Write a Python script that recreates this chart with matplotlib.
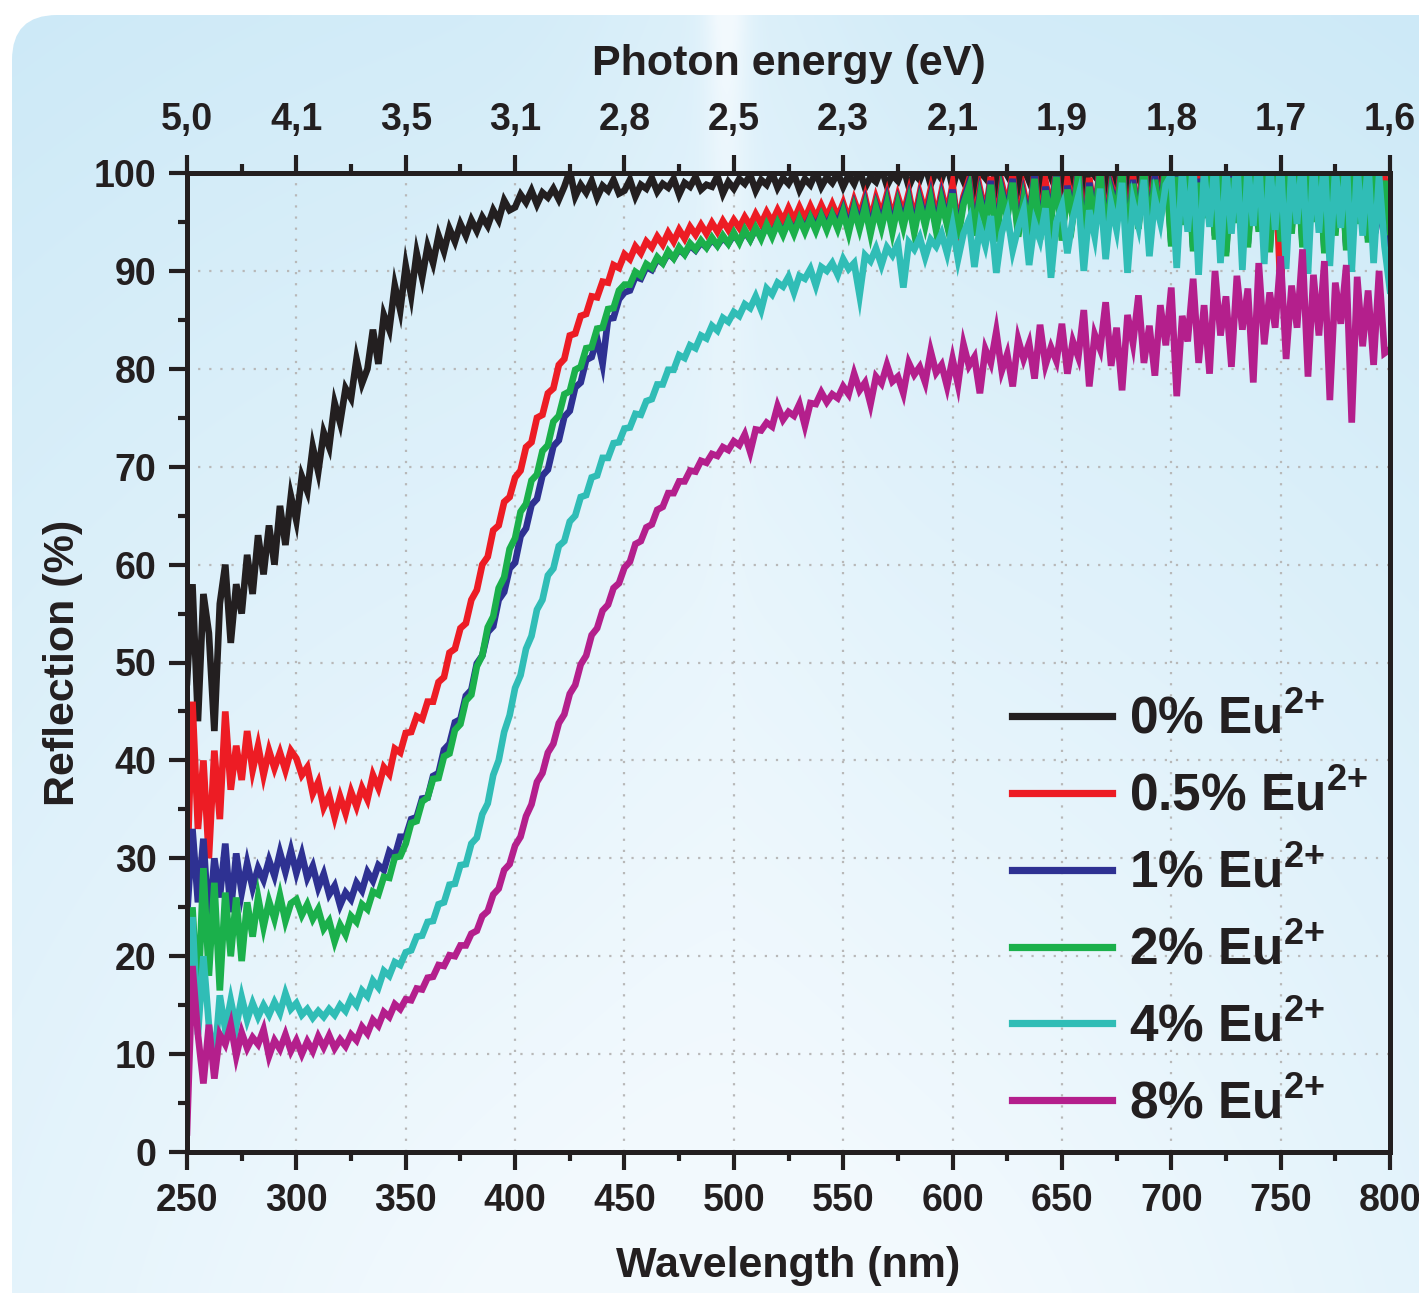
import numpy as np
import matplotlib
matplotlib.use('Agg')
import matplotlib.pyplot as plt
from matplotlib.patches import FancyBboxPatch
from matplotlib.lines import Line2D

plt.rcParams['font.family'] = 'Liberation Sans'
plt.rcParams['font.weight'] = 'bold'
plt.rcParams['mathtext.fontset'] = 'custom'
plt.rcParams['mathtext.rm'] = 'Liberation Sans:bold'
plt.rcParams['mathtext.bf'] = 'Liberation Sans:bold'
plt.rcParams['mathtext.default'] = 'bf'

# wavelength grid (nm), reflection every 2.5 nm
wavelength = [250 + 2.5 * i for i in range(221)]

r_0 = [48, 58, 44, 57, 53, 43, 56, 60, 52, 58, 55, 61, 57, 63, 59, 64, 60, 66, 62, 67,
       64.5, 69, 67.5, 72, 69.5, 73.5, 72, 76.5, 74.5, 78, 77, 81, 78.5, 80, 84, 80.5, 85.5, 84, 88.5, 86,
       90.5, 87.5, 91.8, 89.3, 92.5, 90.8, 93.6, 92, 94.3, 93, 94.8, 93.6, 95.2, 94.1, 95.5, 94.6, 96.2, 95.2, 97.2, 96.2,
       96.5, 97.8, 97, 98.2, 96.8, 98, 97.5, 98.4, 97.3, 98.6, 100.2, 97.6, 98.8, 98, 99.2, 97.5, 98.7, 98.2, 99.3, 97.9,
       98.2, 99.3, 97.6, 98.8, 98.4, 99.5, 98.1, 98.9, 98.5, 99.4, 97.8, 99, 98.6, 99.6, 98.3, 98.8, 98.6, 99.7, 97.9, 99.1,
       98.4, 99.4, 98.9, 99.8, 98.2, 99.3, 98.8, 100, 98.5, 99.5, 98.9, 99.9, 98.3, 99.4, 98.8, 100.1, 98.6, 99.6, 99, 100,
       98.6, 99.8, 98.9, 100.3, 98.5, 99.6, 99.1, 100.5, 98.7, 99.8, 99.2, 100.6, 98.6, 99.9, 99.3, 100.8, 98.8, 100.2, 99.4, 101,
       98.5, 100.5, 99.2, 101.2, 98.3, 100.2, 99.5, 101.5, 98.6, 100.8, 99.8, 101.5, 98.4, 100.6, 99.2, 101.7, 98.7, 101, 99.6, 101.8,
       98.2, 101, 99.3, 101.8, 98, 100.4, 99.7, 102, 98.4, 101.2, 99.1, 101.9, 97.9, 100.7, 99.5, 102, 98.3, 101.3, 99.6, 102,
       98.1, 101.2, 99.4, 102, 97.8, 100.8, 99.2, 102, 98.2, 101.4, 99.6, 102, 97.6, 100.9, 99.3, 102, 98, 101.3, 99.5, 102,
       97.9, 101.4, 99.2, 102, 98.1, 100.9, 99.6, 102, 97.7, 101.2, 99.3, 102, 98, 101, 99.5, 102, 97.8, 101.3, 99.2, 102,
       100]

r_05 = [28, 46, 33, 40, 30, 41, 34, 45, 37, 41.5, 38, 43, 39, 41.5, 38.5, 41, 39.2, 40.8, 39, 41,
        40.2, 38.5, 39.3, 36.6, 37.8, 35.2, 36.4, 34.2, 36.3, 34.6, 36.8, 35.3, 37.2, 36, 38.5, 37.2, 39.3, 38.6, 41.2, 40.8,
        42.8, 42.9, 44.5, 44.2, 46, 46, 48, 48.5, 51, 51.4, 53.5, 54, 56.4, 57.4, 60, 60.8, 63.5, 64, 66.4, 66.9,
        68.9, 69.6, 72, 72.5, 75, 75.3, 77.5, 78, 80.4, 81, 83.4, 83.6, 85.4, 85.6, 87.4, 87.3, 88.9, 88.8, 90.6, 90.3,
        91.7, 91.2, 92.5, 91.8, 93, 92.4, 93.5, 92.7, 93.9, 93, 94.2, 93.3, 94.5, 93.7, 94.7, 93.8, 94.9, 94, 95.1, 94.2,
        95.2, 94.4, 95.5, 94.6, 95.8, 94.8, 96, 95, 96.2, 95.1, 96.4, 95.2, 96.5, 95.3, 96.6, 95.4, 96.7, 95.5, 96.8, 95.5,
        96.9, 95.2, 97.2, 95.6, 97.5, 95.1, 97.4, 95.7, 97.8, 95.3, 97.6, 95.8, 98, 95.2, 97.9, 95.9, 98.3, 95.4, 98.1, 95.8,
        98.8, 94.5, 97.6, 99.3, 94.9, 98.4, 95.8, 99.6, 94.2, 98.9, 96.6, 99.8, 94.8, 98.2, 95.5, 100.2, 94.6, 99.1, 96.2, 100.4,
        94.3, 99.2, 96.4, 100.6, 93.8, 99.5, 95.6, 101, 94.5, 98.8, 96.8, 101.2, 93.6, 99.7, 95.3, 101.4, 94.8, 100.2, 96.1, 101.5,
        93.8, 100.5, 95.6, 102, 93.2, 99.8, 96.2, 102, 94.4, 101.2, 92.8, 100.4, 95.8, 102, 93.6, 100.9, 95, 102, 93.1, 101.5,
        87.5, 101, 94.8, 102, 93.5, 100.6, 95.9, 102, 93, 101.3, 94.6, 102, 92.9, 100.8, 95.7, 102, 94, 101.2, 97, 99.5,
        93]

r_1 = [24, 33, 25.5, 32, 23, 30, 26, 31.5, 24.5, 30.5, 26.5, 29.5, 27, 29, 27.8, 29.8, 28.2, 30.6, 28.6, 30.8,
       28.5, 30.4, 28, 29.2, 27, 28.4, 26.3, 27.2, 25.2, 26.5, 25.8, 27.5, 26.7, 28.6, 27.7, 29.3, 28.8, 30.7, 30.2, 32.2,
       32.2, 34, 34.2, 36.1, 36.2, 38.4, 38.7, 41.1, 41.7, 43.9, 44.2, 46.6, 47.2, 49.9, 50.7, 53.1, 53.7, 56.4, 57.2, 59.6,
       60.2, 62.9, 63.7, 66.1, 66.7, 69.1, 69.7, 72.1, 72.7, 75.1, 75.7, 78.1, 78.6, 80.9, 81.2, 83.1, 80.5, 85.1, 85.2, 87.1,
       87.8, 88, 89.4, 89.2, 90.4, 90.1, 91.2, 90.8, 91.8, 91.3, 92.2, 91.7, 92.6, 92.1, 92.9, 92.4, 93.2, 92.6, 93.4, 92.8,
       93.7, 93, 94, 93.2, 94.3, 93.5, 94.6, 93.7, 94.9, 93.9, 95.1, 94.1, 95.3, 94.3, 95.5, 94.5, 95.7, 94.6, 95.8, 94.8,
       96.3, 94.4, 96.6, 94.8, 96.9, 94.3, 96.7, 94.9, 97.2, 94.5, 97, 95, 97.4, 94.4, 97.3, 95.1, 97.6, 94.6, 97.5, 95,
       98.3, 93.8, 97.2, 98.9, 94.1, 97.8, 95.2, 99.2, 93.5, 98.3, 95.9, 99.4, 94, 97.6, 95, 99.8, 93.7, 98.6, 95.6, 100,
       93.5, 98.7, 95.8, 100.2, 93.1, 99, 95.2, 100.6, 93.8, 98.4, 96.3, 100.8, 92.9, 99.3, 94.7, 101, 94.1, 99.7, 95.6, 101.2,
       92.9, 100, 95.1, 101.8, 92.4, 99.4, 95.8, 102, 93.6, 100.7, 91.9, 99.9, 95.3, 102, 92.8, 100.3, 94.4, 101.9, 92.3, 101,
       93.4, 100.6, 94.2, 102, 92.8, 100.1, 95.4, 101.8, 92.2, 100.9, 94, 102, 92.5, 100.3, 95.2, 101.9, 93.3, 100.7, 96, 99,
       91]

r_2 = [8, 25, 15, 29, 18, 27.5, 16.5, 26.5, 20, 26, 19.5, 25.5, 22, 26, 23, 25.6, 23.8, 26.2, 23.6, 25.4,
       25.8, 24.2, 25.3, 23.8, 24.8, 22.8, 23.6, 21.5, 23.2, 22.2, 24.1, 23.5, 25.3, 24.8, 26.6, 26.3, 28.1, 28, 30.1, 30.2,
       31.5, 33.6, 33.8, 35.8, 36.2, 38.1, 38.2, 40.4, 40.7, 43.1, 43.7, 46.1, 46.7, 49.6, 50.7, 53.6, 54.7, 57.6, 58.7, 61.6,
       62.7, 65.4, 66.2, 68.6, 69.2, 71.6, 72.2, 74.6, 75.2, 77.4, 77.7, 79.9, 80.2, 82.1, 82.2, 84.1, 84.2, 86.1, 86.2, 88,
       88.6, 88.6, 89.9, 89.5, 90.7, 90.3, 91.4, 90.8, 92, 91.3, 92.4, 91.7, 92.8, 92.2, 93.1, 92.4, 93.4, 92.6, 93.6, 92.8,
       93.9, 92.9, 94.2, 93.2, 94.4, 93.3, 94.7, 93.5, 94.9, 93.7, 95.1, 93.8, 95.3, 94, 95.4, 94.1, 95.6, 94.2, 95.7, 94.3,
       96, 93.9, 96.3, 94.3, 96.5, 93.8, 96.4, 94.4, 96.8, 94, 96.7, 94.5, 97, 93.9, 96.9, 94.6, 97.2, 94.1, 97.1, 94.7,
       97.9, 93.3, 96.8, 98.5, 93.6, 97.4, 94.7, 98.8, 93, 97.9, 95.4, 99, 93.5, 97.2, 94.5, 99.4, 93.2, 98.2, 95.1, 99.6,
       93.1, 98.3, 95.4, 99.8, 92.7, 98.6, 94.8, 100.2, 93.4, 98, 95.9, 100.4, 92.5, 98.9, 94.3, 100.6, 93.7, 99.3, 95.2, 100.8,
       92.5, 99.6, 94.7, 101.4, 92, 99, 95.4, 101.8, 93.2, 100.3, 91.5, 99.5, 94.9, 101.9, 92.4, 99.9, 94, 101.5, 91.9, 100.6,
       93, 100.2, 93.8, 101.8, 92.4, 99.7, 95, 101.4, 91.8, 100.5, 93.6, 101.8, 92.1, 99.9, 94.8, 101.5, 92.9, 100.3, 95.6, 99.2,
       94]

r_4 = [10, 24, 12, 20, 13, 9, 16, 12.5, 15.5, 12.8, 15.8, 13.5, 15.2, 13.8, 15, 14, 15.3, 14.2, 16.2, 14.6,
       15.2, 14, 14.6, 13.7, 14.4, 13.8, 14.6, 14, 15, 14.4, 15.7, 15, 16.5, 15.9, 17.5, 16.8, 18.5, 18, 19.4, 19.1,
       20.4, 20.6, 22, 22.1, 23.5, 23.6, 25.3, 25.5, 27.3, 27.4, 29.3, 29.4, 31.5, 32.1, 34.5, 35.6, 38.5, 40, 42.9, 44.6,
       47.4, 48.7, 51.4, 52.7, 55.4, 56.4, 58.9, 59.6, 61.9, 62.4, 64.4, 65, 66.9, 67.1, 68.9, 69.1, 70.9, 70.9, 72.4, 72.5,
       73.9, 74, 75.4, 75.3, 76.7, 76.9, 78.4, 78.4, 79.9, 79.9, 81.4, 81.1, 82.4, 82.1, 83.4, 83.1, 84.4, 83.9, 85.2, 84.8,
       85.8, 85.4, 86.6, 86.2, 87.4, 86, 88.2, 87.6, 88.8, 88.4, 89.4, 87.8, 89.5, 89.2, 90.2, 88.5, 90.4, 90, 90.8, 89.6,
       91.2, 90.2, 90.8, 87.5, 91.6, 91, 92.3, 90.6, 92.4, 91.6, 92.8, 88.3, 92.9, 92.2, 93.4, 91.4, 93.2, 92.5, 93.8, 91.8,
       94.6, 91.2, 93.8, 95.2, 90.4, 94.5, 92.6, 95.6, 89.8, 93.9, 95.8, 92.1, 94.4, 96.2, 90.6, 94.9, 93.2, 96.4, 89.3, 95,
       96.6, 91.8, 95.4, 97.6, 90, 96.2, 93.5, 98.4, 91.2, 96.8, 94.2, 99, 89.8, 97, 94.6, 99.3, 91.5, 97.4, 95, 98.8,
       99.8, 90.3, 100.5, 94, 101, 89.6, 100.2, 94.5, 101.5, 90.8, 100.7, 93.8, 101.8, 90.1, 100.9, 94.6, 102, 90.7, 101.2, 94.2,
       101.5, 90.2, 100.8, 94.8, 102, 89.7, 101.3, 93.9, 101.8, 90.5, 100.6, 94.4, 101.9, 89.9, 100.9, 93.6, 101.4, 90.8, 99.8, 92.5,
       88]

r_8 = [2, 19, 12, 7, 13, 7.5, 12, 11, 13, 9.8, 12.2, 10.6, 11.7, 11, 12.5, 9.8, 11.4, 10.5, 12, 10.3,
       11.4, 10, 11.3, 10.3, 11.8, 10.7, 11.9, 10.6, 11.5, 10.8, 12, 11.4, 12.8, 12.1, 13.5, 12.9, 14.3, 13.8, 15.1, 14.6,
       15.6, 15.5, 16.7, 16.6, 17.8, 17.9, 19.1, 19, 20.1, 20, 21.1, 21.1, 22.3, 22.6, 24.1, 24.6, 26.3, 26.9, 28.8, 29.4,
       31.3, 32.2, 34.3, 35.5, 37.8, 38.7, 40.8, 41.7, 43.8, 44.7, 46.8, 47.7, 49.8, 50.7, 52.8, 53.5, 55.3, 55.9, 57.6, 58.1,
       59.7, 60.3, 62.1, 62.4, 63.8, 64.1, 65.6, 65.9, 67.3, 67.3, 68.5, 68.5, 69.6, 69.5, 70.6, 70.4, 71.3, 71.1, 72, 71.7,
       72.6, 72.2, 73.3, 71.5, 73.8, 73.7, 74.5, 74.1, 76.2, 74.8, 75.6, 75.2, 76.4, 74.2, 76.5, 76.4, 77.6, 76.6, 77.4, 77,
       78.2, 77.4, 79.5, 77.8, 78.6, 76.4, 79.2, 78.5, 80.4, 78.7, 79.2, 77.5, 80.6, 79.4, 80.2, 78.6, 81.8, 79.6, 80.4, 78.2,
       81, 78.4, 82.5, 80.3, 81.2, 77.5, 82, 80.6, 83.8, 79.8, 81.5, 78.2, 83, 81, 82.6, 79, 84.5, 80.4, 82.2, 80.8,
       84.6, 79.5, 82.8, 81.2, 86, 78.2, 83.5, 82, 86.8, 80.3, 84.2, 77.8, 85.5, 82.6, 87.5, 80.6, 84.4, 79.3, 86.5, 82.4,
       88.3, 77.2, 85.4, 82.8, 89.2, 80.6, 86.5, 79.5, 90, 83.4, 87.4, 80.2, 89.5, 84, 88.2, 78.6, 90.8, 82.5, 87.8, 84.2,
       91.5, 81, 88.5, 84.2, 92.2, 79.2, 89.6, 83.4, 91, 76.8, 88.8, 84.6, 90.6, 74.5, 89.4, 82.3, 88, 80.4, 90, 81.6,
       82]

series = [r_0, r_05, r_1, r_2, r_4, r_8]
doping = ['0%', '0.5%', '1%', '2%', '4%', '8%']
colors = ['#231f20', '#ed1c24', '#2e3192', '#1bb04b', '#30bdb6', '#b41f8c']

wl_ticks = [250, 300, 350, 400, 450, 500, 550, 600, 650, 700, 750, 800]
energy_labels = ['5,0', '4,1', '3,5', '3,1', '2,8', '2,5', '2,3', '2,1',
                 '1,9', '1,8', '1,7', '1,6']

W, H = 1419, 1293
dark = '#231f20'
fig = plt.figure(figsize=(W / 100, H / 100), dpi=100)

# rounded light-blue panel behind the plot
bg = fig.add_axes([0, 0, 1, 1], zorder=-5)
bg.set_xlim(0, W)
bg.set_ylim(H, 0)
bg.axis('off')
gx, gy = np.meshgrid(np.linspace(0, 1, 300), np.linspace(0, 1, 280))
d = np.sqrt(((gx - 0.5) / 0.9) ** 2 + ((1.2 - gy) / 1.25) ** 2)
t = np.clip(1.25 - d, 0, 1)
t += 0.6 * np.exp(-((gx - 0.508) / 0.015) ** 2) * np.exp(-gy / 0.15)
t += 0.2 * np.exp(-((gx - 0.505) / 0.1) ** 2) * (1 - gy)
t = np.clip(t, 0, 1)
blue = np.array([0.78, 0.905, 0.965])
white = np.array([0.95, 0.978, 0.995])
img = blue + (white - blue) * t[..., None]
panel = FancyBboxPatch((12, 15), 1600, 1500, boxstyle='round,pad=0,rounding_size=45',
                       facecolor='none', edgecolor='none', transform=bg.transData)
bg.add_patch(panel)
im = bg.imshow(img, extent=(12, W, H, 15), origin='upper', aspect='auto',
               interpolation='bilinear')
im.set_clip_path(panel)

ax = fig.add_axes([187 / W, 1 - 1152 / H, (1390 - 187) / W, (1152 - 173) / H])
ax.set_facecolor('none')

for vals, c in zip(series, colors):
    ax.plot(wavelength, vals, color=c, lw=4.8, solid_joinstyle='miter')

ax.set_xlim(250, 800)
ax.set_ylim(0, 100)
ax.set_xticks(wl_ticks)
ax.set_xticks(range(275, 800, 50), minor=True)
ax.set_yticks(range(0, 101, 10))
ax.set_yticks(range(5, 100, 10), minor=True)
ax.grid(True, which='major', linestyle=(0, (1, 4)), color='#b8b8b8', lw=1.6)
ax.set_axisbelow(True)

ax.tick_params(which='both', direction='out', color=dark, labelcolor=dark,
               top=False, right=False, width=3)
ax.tick_params(which='major', length=13, labelsize=27, pad=9)
ax.tick_params(which='minor', length=6.5)
for s in ax.spines.values():
    s.set_linewidth(3.6)
    s.set_color(dark)

ax.set_xlabel('Wavelength (nm)', fontsize=31, fontweight='bold', color=dark, labelpad=20)
ax.set_ylabel('Reflection (%)', fontsize=31, fontweight='bold', color=dark, labelpad=8)

ax2 = ax.twiny()
ax2.set_xlim(250, 800)
ax2.set_xticks(wl_ticks)
ax2.set_xticklabels(energy_labels)
ax2.set_xticks(range(275, 800, 50), minor=True)
ax2.tick_params(which='both', direction='out', color=dark, labelcolor=dark, width=3)
ax2.tick_params(which='major', length=13, labelsize=27, pad=12)
ax2.tick_params(which='minor', length=6.5)
for s in ax2.spines.values():
    s.set_visible(False)
ax2.set_xlabel('Photon energy (eV)', fontsize=31, fontweight='bold', color=dark, labelpad=20)

handles = [Line2D([], [], color=c, lw=5.2) for c in colors]
labels = [d + r' Eu$^{2{+}}$' for d in doping]
leg = ax.legend(handles, labels, loc='upper left',
                bbox_to_anchor=(1012 / W, 1 - 695 / H), bbox_transform=fig.transFigure,
                frameon=False, fontsize=37, handlelength=1.95, handletextpad=0.33,
                labelspacing=0.53, borderpad=0, borderaxespad=0)
for txt in leg.get_texts():
    txt.set_color(dark)

fig.savefig('out.png', dpi=100)
